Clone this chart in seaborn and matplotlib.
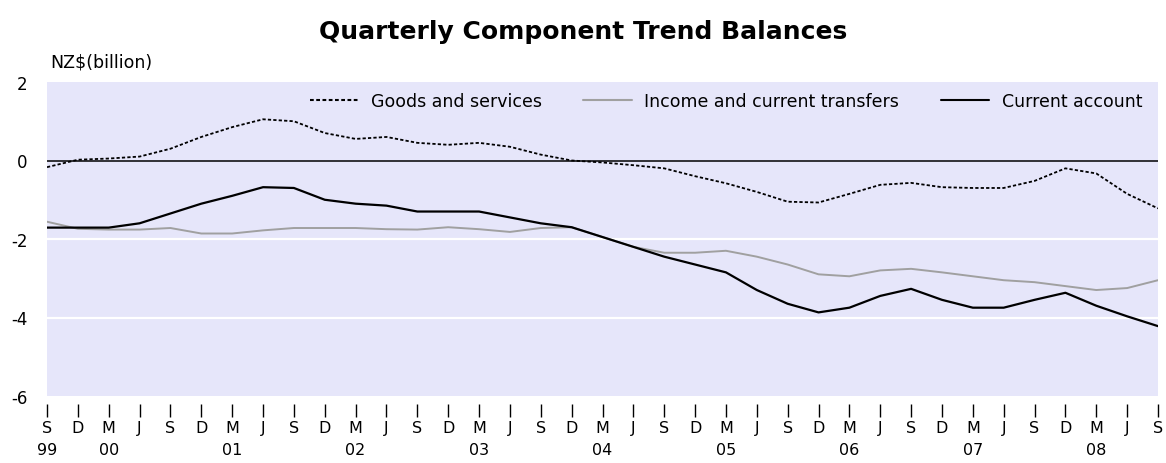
import numpy as np
import pandas as pd
import matplotlib
matplotlib.use('Agg')
import matplotlib.pyplot as plt
import seaborn as sns

# --------------------------------
# 1. Data (NZ$ billion, quarterly Sep 1999 - Sep 2008)
# --------------------------------
months = ['S', 'D', 'M', 'J'] * 9 + ['S']
years = ['99', '', '00', '', '', '', '01', '', '', '', '02', '', '', '', '03', '', '', '',
         '04', '', '', '', '05', '', '', '', '06', '', '', '', '07', '', '', '', '08', '', '']

goods = [-0.17, 0.02, 0.05, 0.10, 0.30, 0.60, 0.85, 1.05, 1.00, 0.70, 0.55, 0.60, 0.45,
         0.40, 0.45, 0.35, 0.15, 0.00, -0.05, -0.12, -0.20, -0.40, -0.58, -0.80, -1.05,
         -1.07, -0.85, -0.62, -0.57, -0.68, -0.70, -0.70, -0.52, -0.20, -0.33, -0.85, -1.22]
income = [-1.56, -1.74, -1.76, -1.76, -1.72, -1.86, -1.86, -1.78, -1.72, -1.72, -1.72,
          -1.75, -1.76, -1.70, -1.75, -1.82, -1.72, -1.70, -1.95, -2.20, -2.35, -2.35,
          -2.30, -2.45, -2.65, -2.90, -2.95, -2.80, -2.76, -2.85, -2.95, -3.05, -3.10,
          -3.20, -3.30, -3.25, -3.05]
current = [-1.71, -1.71, -1.71, -1.60, -1.35, -1.10, -0.90, -0.68, -0.70, -1.00, -1.10,
           -1.15, -1.30, -1.30, -1.30, -1.45, -1.60, -1.70, -1.95, -2.20, -2.45, -2.65,
           -2.85, -3.30, -3.65, -3.87, -3.75, -3.45, -3.27, -3.55, -3.75, -3.75, -3.55,
           -3.37, -3.70, -3.97, -4.22]

series_names = ['Goods and services', 'Income and current transfers', 'Current account']

df = pd.DataFrame({'q': np.arange(len(months)),
                   series_names[0]: goods,
                   series_names[1]: income,
                   series_names[2]: current})
df_long = df.melt(id_vars='q', var_name='series', value_name='value')

# --------------------------------
# 2. Style
# --------------------------------
sns.set_theme(style='white')
plt.rcParams['font.family'] = ['DejaVu Sans']
plt.rcParams['axes.unicode_minus'] = False
plt.rcParams['text.color'] = 'black'
plt.rcParams['xtick.color'] = 'black'
plt.rcParams['ytick.color'] = 'black'

fig = plt.figure(figsize=(11.66, 4.64), dpi=100)
ax = fig.add_axes([47 / 1166, 1 - 397 / 464, (1158 - 47) / 1166, (397 - 83) / 464])
ax.set_facecolor('#e6e6fa')

for yv in [-2, -4]:
    ax.axhline(yv, color='white', lw=1.6, zorder=1)
ax.axhline(0, color='black', lw=1.1, zorder=1)

sns.lineplot(
    data=df_long, x='q', y='value',
    hue='series', style='series',
    hue_order=series_names, style_order=series_names,
    palette={series_names[0]: 'black', series_names[1]: '#a0a0a0', series_names[2]: 'black'},
    dashes={series_names[0]: (1.8, 1.2), series_names[1]: '', series_names[2]: ''},
    linewidth=1.5, ax=ax, zorder=3
)
for line, lw in zip(ax.get_lines()[3:6], [1.3, 1.4, 1.6]):
    line.set_linewidth(lw)

ax.set_xlim(0, len(months) - 1)
ax.set_ylim(-6, 2)
ax.set_xlabel('')
ax.set_ylabel('')

for s in ax.spines.values():
    s.set_visible(False)
ax.spines['bottom'].set_position(('outward', 6))

ax.set_xticks(np.arange(len(months)))
labels = [m + ('\n' + y if y else '') for m, y in zip(months, years)]
ax.set_xticklabels(labels, fontsize=11.5)
for t in ax.get_xticklabels():
    t.set_linespacing(1.6)
ax.tick_params(axis='x', direction='out', length=9, width=1, pad=2, bottom=True)

ax.set_yticks([-6, -4, -2, 0, 2])
ax.set_yticklabels(['-6', '-4', '-2', '0', '2'], fontsize=12)
ax.tick_params(axis='y', length=0, pad=14)

leg = ax.legend(loc='upper right', bbox_to_anchor=(0.995, 1.0), ncol=3, frameon=False,
                fontsize=12.5, handlelength=2.8, handletextpad=0.7, columnspacing=2.4,
                borderaxespad=0.2)
for t in leg.get_texts():
    t.set_color('black')

fig.text(0.5, 1 - 32 / 464, 'Quarterly Component Trend Balances',
         ha='center', va='center', fontsize=18, fontweight='bold', color='black')
fig.text(50 / 1166, 1 - 63 / 464, r'NZ\$(billion)', ha='left', va='center',
         fontsize=12.5, color='black')

fig.savefig('out.png', dpi=100)
